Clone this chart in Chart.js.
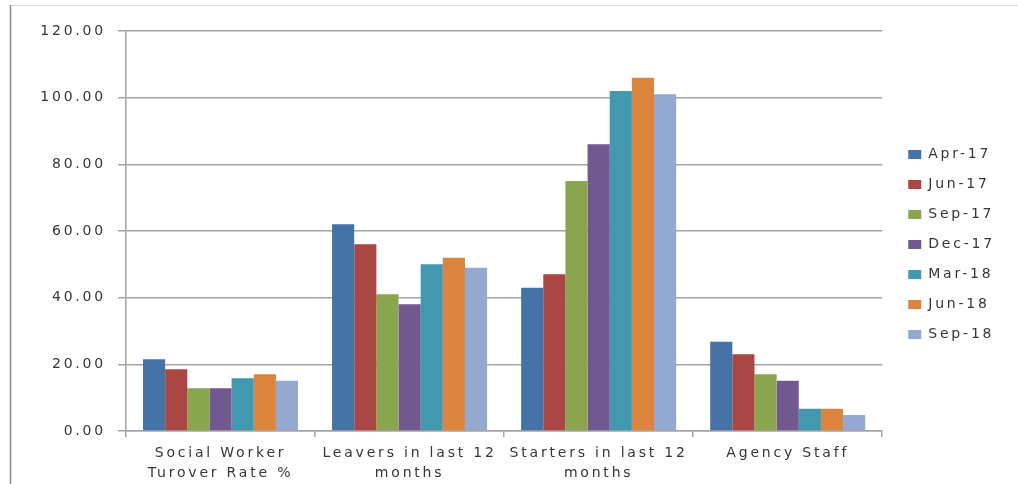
<!DOCTYPE html>
<html>
<head>
<meta charset="utf-8">
<script src="https://cdn.jsdelivr.net/npm/chart.js@4/dist/chart.umd.min.js"></script>
<style>
  html, body { margin: 0; padding: 0; background: #fff; }
  #wrap { width: 1018px; height: 484px; position: relative; }
</style>
</head>
<body>
<div id="wrap"><canvas id="staff-chart"></canvas></div>
<script>
// categories along the x axis
const categories = [
    ['Social Worker', 'Turover Rate %'],
    ['Leavers in last 12', 'months'],
    ['Starters in last 12', 'months'],
    'Agency Staff'
];

// one series per quarter
const periods = ['Apr-17', 'Jun-17', 'Sep-17', 'Dec-17', 'Mar-18', 'Jun-18', 'Sep-18'];
const apr17 = [21.5, 62, 43, 26.8];
const jun17 = [18.5, 56, 47, 23];
const sep17 = [12.8, 41, 75, 17];
const dec17 = [12.8, 38, 86, 15.1];
const mar18 = [15.8, 50, 102, 6.7];
const jun18 = [17, 52, 106, 6.7];
const sep18 = [15.1, 49, 101, 4.8];
const seriesValues = [apr17, jun17, sep17, dec17, mar18, jun18, sep18];

const yTicks = [0, 20, 40, 60, 80, 100, 120];

const colors = ['#4572A7', '#AA4643', '#89A54E', '#71588F', '#4198AF', '#DB843D', '#93A9CF'];

const textColor = '#363636';
const gridColor = '#a4a4a4';
const font = { family: 'DejaVu Sans', size: 14, lineHeight: 1.4 };
const spacing = '2.8px';

// Excel-ish wide lettering; canvas state gets reset so set it on every pass
const spacingPlugin = {
    id: 'spacing',
    beforeUpdate(chart) { chart.ctx.letterSpacing = spacing; },
    beforeLayout(chart) { chart.ctx.letterSpacing = spacing; },
    beforeDraw(chart) { chart.ctx.letterSpacing = spacing; }
};

// nudge the legend a bit right and up, Excel leaves a wider gap
const legendNudge = {
    id: 'legendNudge',
    afterLayout(chart) {
        const lg = chart.legend;
        if (!lg) return;
        lg.left += 10; lg.right += 10;
        lg.top -= 13; lg.bottom -= 13;
    }
};

// thin frame on the top and left, like the pasted chart object
const framePlugin = {
    id: 'frame',
    beforeDraw(chart) {
        const ctx = chart.ctx;
        ctx.save();
        ctx.lineWidth = 1;
        ctx.strokeStyle = '#d6d6d6';
        ctx.beginPath();
        ctx.moveTo(10, 5.5);
        ctx.lineTo(chart.width, 5.5);
        ctx.stroke();
        ctx.strokeStyle = '#8c8c8c';
        ctx.lineWidth = 1.5;
        ctx.beginPath();
        ctx.moveTo(10.5, 5);
        ctx.lineTo(10.5, chart.height);
        ctx.stroke();
        ctx.restore();
    }
};

const ctx = document.getElementById('staff-chart').getContext('2d');

new Chart(ctx, {
    type: 'bar',
    data: {
        labels: categories,
        datasets: periods.map((p, i) => ({
            label: p,
            data: seriesValues[i],
            backgroundColor: colors[i],
            borderWidth: 0,
            categoryPercentage: 0.82,
            barPercentage: 1
        }))
    },
    options: {
        responsive: true,
        maintainAspectRatio: false,
        animation: false,
        layout: {
            padding: { top: 31, left: 0, right: 23, bottom: 0 }
        },
        scales: {
            x: {
                grid: {
                    offset: true,
                    drawOnChartArea: false,
                    drawTicks: true,
                    tickLength: 6,
                    color: gridColor,
                    lineWidth: 1.5
                },
                border: { color: gridColor, width: 1.5 },
                ticks: {
                    color: textColor,
                    font: font,
                    padding: 7,
                    maxRotation: 0,
                    autoSkip: false
                },
                afterFit(scale) { scale.height = 53; }
            },
            y: {
                min: 0,
                max: 120,
                afterBuildTicks(scale) { scale.ticks = yTicks.map(v => ({ value: v })); },
                grid: {
                    color: gridColor,
                    lineWidth: 1.5,
                    tickLength: 8
                },
                border: { color: gridColor, width: 1.5 },
                ticks: {
                    color: textColor,
                    font: font,
                    padding: 12,
                    callback: v => Number(v).toFixed(2)
                },
                afterFit(scale) { scale.width = 126; }
            }
        },
        plugins: {
            legend: {
                display: true,
                position: 'right',
                labels: {
                    color: textColor,
                    font: { family: 'DejaVu Sans', size: 14 },
                    boxWidth: 13,
                    boxHeight: 9,
                    padding: 16
                }
            },
            title: { display: false },
            tooltip: { enabled: false }
        }
    },
    plugins: [spacingPlugin, legendNudge, framePlugin]
});
</script>
</body>
</html>
